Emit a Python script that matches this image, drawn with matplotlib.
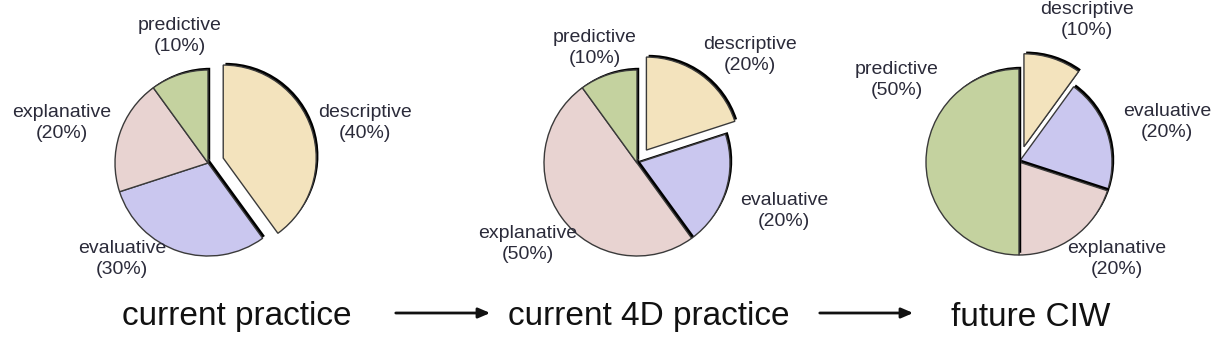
import matplotlib.pyplot as plt
import matplotlib.patheffects as pe

# slice order: clockwise from 12 o'clock
cats = ["descriptive", "evaluative", "explanative", "predictive"]
colors = ["#f3e3bd", "#cac7ef", "#e8d3d1", "#c4d29f"]

current_vals = [40, 30, 20, 10]
current4d_vals = [20, 20, 50, 10]
future_vals = [10, 20, 20, 50]

titles = ["current practice", "current 4D practice", "future CIW"]

H = 344  # work in pixel units, y up

pies = [
    # values, center (px), label positions (px, y down)
    (current_vals, (208, 163), [(365, 123), (122, 259), (62, 123), (180, 36)]),
    (current4d_vals, (637, 163), [(750, 55), (784, 211), (528, 244), (595, 48)]),
    (future_vals, (1019, 162), [(1087, 20), (1167, 122), (1117, 259), (897, 80)]),
]
radius = 93


def main():
    plt.rcParams['font.family'] = ['Liberation Sans', 'DejaVu Sans']
    fig = plt.figure(figsize=(12.3, 3.44), dpi=100)
    ax = fig.add_axes([0, 0, 1, 1])

    for vals, (cx, cy), label_pos in pies:
        explode = [16, 0, 0, 0]  # pie() takes this in data units
        wedges, _ = ax.pie(vals, colors=colors, startangle=90, counterclock=False,
                           center=(cx, H - cy), radius=radius, explode=explode,
                           wedgeprops=dict(edgecolor="#3a3a3a", linewidth=1.0))
        for w in wedges:
            w.set_path_effects([pe.SimplePatchShadow(offset=(1.6, 1.6), shadow_rgbFace="black", alpha=1.0),
                                pe.Normal()])
        for cat, v, (lx, ly) in zip(cats, vals, label_pos):
            ax.text(lx, H - ly, f"{cat}\n({v}%)", ha="center", va="center",
                    fontsize=14, color="#2b2b3a", linespacing=1.3)

    title_x = [237, 649, 1031]
    for t, x in zip(titles, title_x):
        ax.text(x, H - 317, t, ha="center", va="center", fontsize=24, color="#111111")

    for x0, x1 in [(393, 493), (817, 916)]:
        ax.annotate("", xy=(x1, H - 313), xytext=(x0, H - 313),
                    arrowprops=dict(arrowstyle="-|>,head_length=0.7,head_width=0.3",
                                    color="#111111", lw=2))

    ax.set_xlim(0, 1230)
    ax.set_ylim(0, H)
    ax.set_aspect("equal")
    ax.axis("off")
    fig.savefig("out.png", dpi=100)


if __name__ == "__main__":
    main()
